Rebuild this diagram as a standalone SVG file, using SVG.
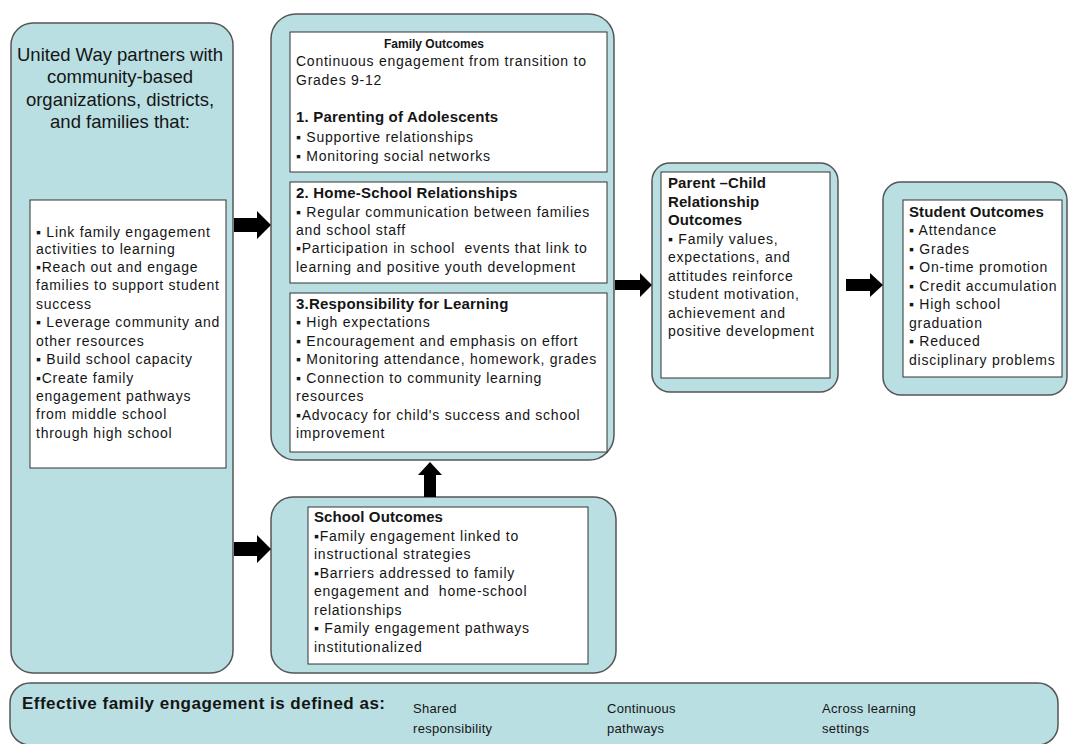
<svg xmlns="http://www.w3.org/2000/svg" width="1068" height="744" viewBox="0 0 1068 744">
<style>
.outer{fill:#b9dfe2;stroke:#555;stroke-width:1.5}
.inner{fill:#fff;stroke:#333;stroke-width:1}
.arrow{fill:#000}
text{font-family:"Liberation Sans",Arial,"DejaVu Sans",sans-serif;fill:#151515}
.t{font-size:14px;letter-spacing:0.75px}
.b{font-size:15px;font-weight:bold;letter-spacing:0.1px}
.bs{font-size:13.5px;font-weight:bold}
.b15{font-size:15px;font-weight:bold;letter-spacing:0.2px}
.hd{font-size:18.5px}
.sm{font-size:13px;letter-spacing:0.3px}
.bt{font-size:17px;font-weight:bold}
</style>
<rect width="1068" height="744" fill="#fff"/>

<g id="left-partners">
<rect class="outer" x="11" y="23" width="222" height="650" rx="22"/>
<text class="hd" text-anchor="middle" x="120" y="61">United Way partners with</text>
<text class="hd" text-anchor="middle" x="120" y="83">community-based</text>
<text class="hd" text-anchor="middle" x="120" y="106">organizations, districts,</text>
<text class="hd" text-anchor="middle" x="120" y="128">and families that:</text>
<rect class="inner" x="30" y="200" width="196" height="268"/>
<text class="t" x="36" y="237">▪ Link family engagement</text>
<text class="t" x="36" y="254">activities to learning</text>
<text class="t" x="36" y="272">▪Reach out and engage</text>
<text class="t" x="36" y="290">families to support student</text>
<text class="t" x="36" y="309">success</text>
<text class="t" x="36" y="327">▪ Leverage community and</text>
<text class="t" x="36" y="346">other resources</text>
<text class="t" x="36" y="364">▪ Build school capacity</text>
<text class="t" x="36" y="383">▪Create family</text>
<text class="t" x="36" y="401">engagement pathways</text>
<text class="t" x="36" y="419">from middle school</text>
<text class="t" x="36" y="438">through high school</text>
</g>

<g id="family-outcomes">
<rect class="outer" x="271" y="14" width="343" height="446" rx="25"/>
<rect class="inner" x="290" y="32" width="317" height="140"/>
<text class="bs" x="384" y="48" textLength="100" lengthAdjust="spacingAndGlyphs">Family Outcomes</text>
<text class="t" x="296" y="66">Continuous engagement from transition to</text>
<text class="t" x="296" y="85">Grades 9-12</text>
<text class="b15" x="296" y="122">1. Parenting of Adolescents</text>
<text class="t" x="296" y="142">▪ Supportive relationships</text>
<text class="t" x="296" y="161">▪ Monitoring social networks</text>
<rect class="inner" x="290" y="182" width="317" height="101"/>
<text class="b15" x="296" y="198">2. Home-School Relationships</text>
<text class="t" x="296" y="217">▪ Regular communication between families</text>
<text class="t" x="296" y="235">and school staff</text>
<text class="t" x="296" y="253" xml:space="preserve">▪Participation in school  events that link to</text>
<text class="t" x="296" y="272">learning and positive youth development</text>
<rect class="inner" x="290" y="293" width="317" height="159"/>
<text class="b15" x="296" y="309">3.Responsibility for Learning</text>
<text class="t" x="296" y="327">▪ High expectations</text>
<text class="t" x="296" y="346">▪ Encouragement and emphasis on effort</text>
<text class="t" x="296" y="364">▪ Monitoring attendance, homework, grades</text>
<text class="t" x="296" y="383">▪ Connection to community learning</text>
<text class="t" x="296" y="401">resources</text>
<text class="t" x="296" y="420">▪Advocacy for child's success and school</text>
<text class="t" x="296" y="438">improvement</text>
</g>

<g id="school-outcomes">
<rect class="outer" x="271" y="497" width="345" height="176" rx="22"/>
<rect class="inner" x="308" y="507" width="280" height="157"/>
<text class="b" x="314" y="522">School Outcomes</text>
<text class="t" x="314" y="541">▪Family engagement linked to</text>
<text class="t" x="314" y="559">instructional strategies</text>
<text class="t" x="314" y="578">▪Barriers addressed to family</text>
<text class="t" x="314" y="596" xml:space="preserve">engagement and  home-school</text>
<text class="t" x="314" y="615">relationships</text>
<text class="t" x="314" y="633">▪ Family engagement pathways</text>
<text class="t" x="314" y="652">institutionalized</text>
</g>

<g id="parent-child-outcomes">
<rect class="outer" x="652" y="163" width="186" height="229" rx="18"/>
<rect class="inner" x="661" y="172" width="169" height="206"/>
<text class="b" x="668" y="188">Parent –Child</text>
<text class="b" x="668" y="207">Relationship</text>
<text class="b" x="668" y="225">Outcomes</text>
<text class="t" x="668" y="244">▪ Family values,</text>
<text class="t" x="668" y="262">expectations, and</text>
<text class="t" x="668" y="281">attitudes reinforce</text>
<text class="t" x="668" y="299">student motivation,</text>
<text class="t" x="668" y="318">achievement and</text>
<text class="t" x="668" y="336">positive development</text>
</g>

<g id="student-outcomes">
<rect class="outer" x="883" y="182" width="184" height="213" rx="18"/>
<rect class="inner" x="903" y="200" width="159" height="177"/>
<text class="b" x="909" y="217">Student Outcomes</text>
<text class="t" x="909" y="235">▪ Attendance</text>
<text class="t" x="909" y="254">▪ Grades</text>
<text class="t" x="909" y="272">▪ On-time promotion</text>
<text class="t" x="909" y="291">▪ Credit accumulation</text>
<text class="t" x="909" y="309">▪ High school</text>
<text class="t" x="909" y="328">graduation</text>
<text class="t" x="909" y="346">▪ Reduced</text>
<text class="t" x="909" y="365">disciplinary problems</text>
</g>

<g id="definition">
<rect class="outer" x="10" y="683" width="1048" height="62" rx="20"/>
<text class="bt" x="22" y="709" textLength="363" lengthAdjust="spacing">Effective family engagement is defined as:</text>
<text class="sm" x="413" y="713">Shared</text>
<text class="sm" x="413" y="733">responsibility</text>
<text class="sm" x="607" y="713">Continuous</text>
<text class="sm" x="607" y="733">pathways</text>
<text class="sm" x="822" y="713">Across learning</text>
<text class="sm" x="822" y="733">settings</text>
</g>

<g id="connectors">
<polygon class="arrow" points="234,218 257,218 257,211 271,225 257,239 257,232 234,232"/>
<polygon class="arrow" points="234,542 257,542 257,535 271,549 257,563 257,556 234,556"/>
<polygon class="arrow" points="615,280 640,280 640,273 652,285 640,297 640,290 615,290"/>
<polygon class="arrow" points="846,279 870,279 870,273 883,285 870,297 870,291 846,291"/>
<polygon class="arrow" points="424,497 424,475 418,475 430,462 442,475 436,475 436,497"/>
</g>
</svg>
